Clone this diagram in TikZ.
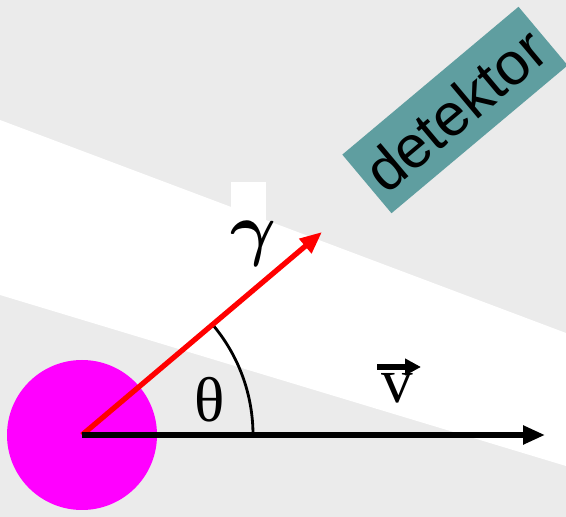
\RequirePackage{fix-cm}
\documentclass[tikz,border=0pt]{standalone}
\usepackage{fontspec}
\usetikzlibrary{positioning, arrows.meta, calc}
\newfontfamily\detfont{Liberation Sans}
\newfontfamily\lblfont{Liberation Serif}
\definecolor{bggray}{RGB}{235,235,235}
\definecolor{detcolor}{RGB}{95,158,160}
\definecolor{srccolor}{RGB}{255,0,255}

\begin{document}
\begin{tikzpicture}[
        source/.style={circle, fill=srccolor, minimum size=3cm, inner sep=0pt},
        detbox/.style={rectangle, fill=detcolor, minimum width=4.6cm, minimum height=1.53cm, rotate=40, font=\detfont\fontsize{34}{36}\selectfont},
        lbl/.style={font=\lblfont\fontsize{36}{40}\selectfont, inner sep=0pt},
        arrow/.style={-{Triangle[length=0.44cm, width=0.36cm]}, line width=3pt},
        anglearc/.style={line width=1.6pt}
    ]

    % Background and band
    \fill[bggray] (0,0) rectangle (11.32,10.34);
    \fill[white] (0,7.94) -- (11.32,3.68) -- (11.32,1.02) -- (0,4.44) -- cycle;
    \useasboundingbox (0,0) rectangle (11.32,10.34);

    % Source and detector
    \node[source] (src) at (1.64,1.64) {};
    \node[detbox] (det) at (9.1,8.14) {detektor};

    % Arrow ends
    \coordinate (gtip) at (6.44,5.70);
    \coordinate (vtip) at (10.90,1.64);

    % Angle
    \draw[anglearc] ([xshift=3.42cm]src.center) arc[start angle=0, end angle=40.2, radius=3.42cm];

    % Arrows
    \draw[arrow, red] (src.center) -- (gtip);
    \draw[arrow, black] (src.center) -- (vtip);

    % Labels
    \node[lbl, font=\lblfont\fontsize{40}{44}\selectfont\boldmath, fill=white, text height=1.41cm, text width=0.7cm, align=center, anchor=base] (gamma) at (4.96,5.28) {$\gamma$};
    \node[lbl] (theta) at (4.2,2.34) {θ};
    \node[lbl, fill=white, inner sep=3pt, anchor=base] (vlabel) at (7.94,2.28) {v};
    \draw[-{Triangle[length=0.32cm, width=0.32cm]}, line width=3pt] ([xshift=-0.4cm, yshift=0.72cm]vlabel.base) -- ++(0.88,0);

\end{tikzpicture}
\end{document}
